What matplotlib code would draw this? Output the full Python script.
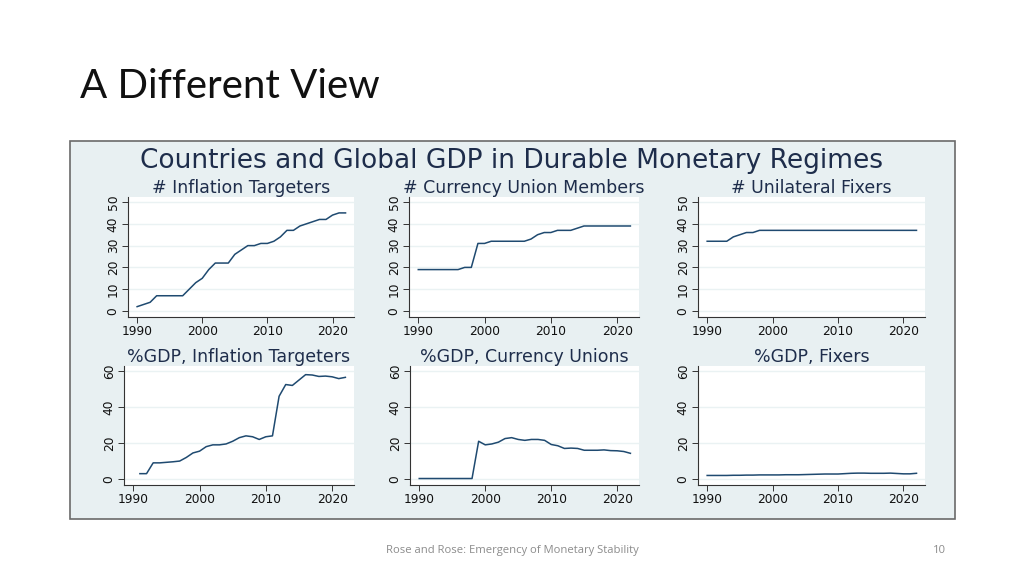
import matplotlib.pyplot as plt
from matplotlib.patches import Rectangle

years = list(range(1990, 2023))

it_count = [2, 3, 4, 7, 7, 7, 7, 7, 10, 13, 15, 19, 22, 22, 22, 26, 28, 30, 30, 31, 31,
            32, 34, 37, 37, 39, 40, 41, 42, 42, 44, 45, 45]
cu_count = [19, 19, 19, 19, 19, 19, 19, 20, 20, 31, 31, 32, 32, 32, 32, 32, 32, 33, 35, 36,
            36, 37, 37, 37, 38, 39, 39, 39, 39, 39, 39, 39, 39]
fx_count = [32, 32, 32, 32, 34, 35, 36, 36, 37, 37, 37, 37, 37, 37, 37, 37, 37, 37, 37, 37,
            37, 37, 37, 37, 37, 37, 37, 37, 37, 37, 37, 37, 37]

it_years = list(range(1991, 2023))
it_gdp = [3, 3, 9, 9, 9.3, 9.6, 10, 12, 14.5, 15.5, 18, 19, 19, 19.5, 21, 23, 24, 23.5, 22,
          23.5, 24, 46, 52.5, 52, 55, 58, 57.8, 57, 57.2, 56.8, 55.8, 56.5]
cu_gdp = [0.3, 0.3, 0.3, 0.3, 0.3, 0.3, 0.3, 0.3, 0.3, 21, 19, 19.5, 20.5, 22.5, 23, 22, 21.5,
          22, 22, 21.5, 19.2, 18.5, 17, 17.2, 17, 16, 16, 16, 16.2, 15.8, 15.7, 15.3, 14.3]
fx_gdp = [2, 2, 2, 2, 2.1, 2.1, 2.2, 2.2, 2.3, 2.3, 2.3, 2.3, 2.4, 2.4, 2.4, 2.5, 2.6, 2.7,
          2.8, 2.8, 2.8, 3.0, 3.2, 3.3, 3.3, 3.2, 3.2, 3.2, 3.3, 3.1, 2.9, 2.9, 3.2]

titles_top = ["# Inflation Targeters", "# Currency Union Members", "# Unilateral Fixers"]
titles_bot = ["%GDP, Inflation Targeters", "%GDP, Currency Unions", "%GDP, Fixers"]
count_ticks = [0, 10, 20, 30, 40, 50]
gdp_ticks = [0, 20, 40, 60]
x_ticks = [1990, 2000, 2010, 2020]

W, H = 1024, 576
NAVY = "#1f4a70"
TXT = "#1e2d4b"


def box(x0, y0, x1, y1):
    return [x0 / W, 1 - y1 / H, (x1 - x0) / W, (y1 - y0) / H]


fig = plt.figure(figsize=(10.24, 5.76), dpi=100)
fig.patch.set_facecolor("white")

# framed picture behind the panels
fig.patches.append(Rectangle((70 / W, 1 - 519 / H), 885 / W, 378 / H, transform=fig.transFigure,
                             facecolor="#e8f0f2", edgecolor="#6a6a6a", lw=1.2, zorder=-1))

fig.text(80 / W, 1 - 98 / H, "A Different View", fontsize=29, family="Lato",
         color="#111111", ha="left", va="baseline")
fig.text(512 / W, 1 - 168 / H, "Countries and Global GDP in Durable Monetary Regimes",
         fontsize=19, family="DejaVu Sans", color=TXT, ha="center", va="baseline")
fig.text(512 / W, 1 - 553 / H, "Rose and Rose: Emergency of Monetary Stability",
         fontsize=8.1, family="Open Sans", color="#8c8c8c", ha="center", va="baseline")
fig.text(939 / W, 1 - 553 / H, "10", fontsize=8.1, family="Open Sans", color="#8c8c8c",
         ha="center", va="baseline")

top_x = [(128, 354), (409, 639), (698, 925)]
bot_x = [(124, 354), (410, 639), (698, 925)]

panels = [
    (top_x[0], (197, 317), years, it_count, titles_top[0], count_ticks, (-2.75, 52.3)),
    (top_x[1], (197, 317), years, cu_count, titles_top[1], count_ticks, (-2.75, 52.3)),
    (top_x[2], (197, 317), years, fx_count, titles_top[2], count_ticks, (-2.75, 52.3)),
    (bot_x[0], (366, 485), it_years, it_gdp, titles_bot[0], gdp_ticks, (-3.3, 62.8)),
    (bot_x[1], (366, 485), years, cu_gdp, titles_bot[1], gdp_ticks, (-3.3, 62.8)),
    (bot_x[2], (366, 485), years, fx_gdp, titles_bot[2], gdp_ticks, (-3.3, 62.8)),
]

for (x0, x1), (y0, y1), xs, ys, title, yt, ylim in panels:
    ax = fig.add_axes(box(x0, y0, x1, y1))
    ax.set_facecolor("white")
    ax.plot(xs, ys, color=NAVY, lw=1.1)
    ax.set_xlim(1988.6, 2023.3)
    ax.set_ylim(*ylim)
    ax.set_xticks(x_ticks)
    ax.set_yticks(yt)
    ax.grid(axis="y", color="#eaf2f3", lw=1.0)
    ax.set_axisbelow(True)
    for s in ["top", "right"]:
        ax.spines[s].set_visible(False)
    for s in ["left", "bottom"]:
        ax.spines[s].set_color("#333333")
        ax.spines[s].set_linewidth(0.8)
    ax.tick_params(axis="both", direction="out", length=4, width=0.7, color="#333333",
                   labelsize=8.8, labelcolor="#111111", pad=2)
    for lab in ax.get_yticklabels():
        lab.set_rotation(90)
        lab.set_va("center")
    ax.set_title(title, fontsize=12.5, family="DejaVu Sans", color=TXT, pad=2.5)

fig.savefig("out.png", dpi=100)
